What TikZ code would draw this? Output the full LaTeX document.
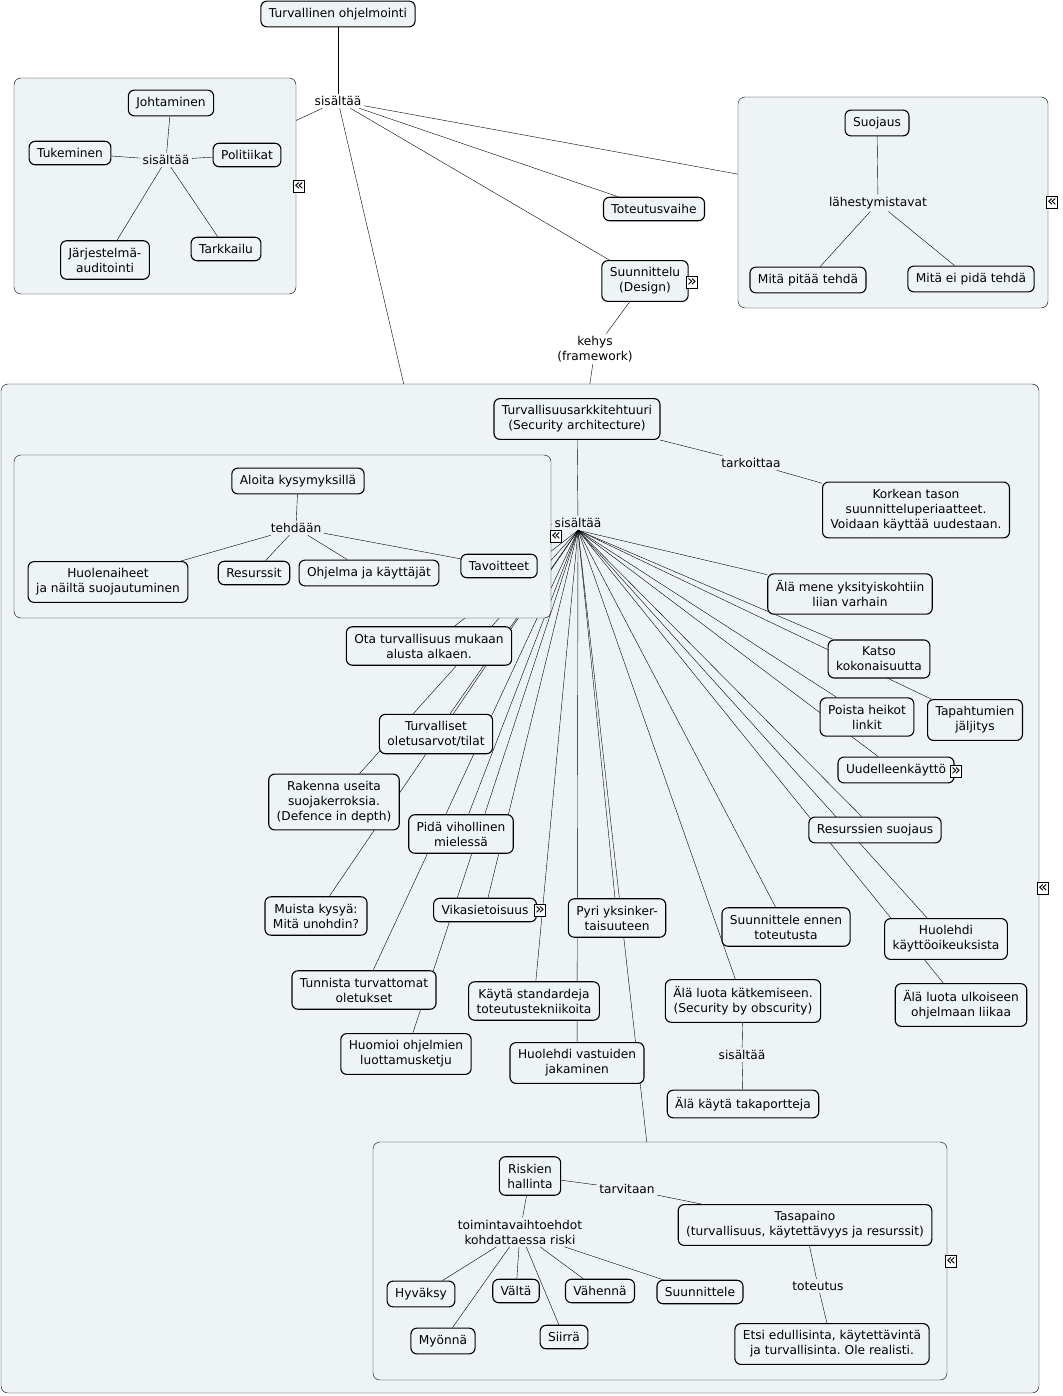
\documentclass[tikz,border=0pt]{standalone}
\usepackage{fontspec}
\setmainfont{DejaVu Sans}
\usepackage{tikz}
\frenchspacing

\definecolor{mapfill}{RGB}{238,244,246}
\newcommand{\mapfont}{\fontsize{12.2}{15}\selectfont}
\pgfdeclarelayer{outer}
\pgfdeclarelayer{fan}
\pgfdeclarelayer{inner}
\pgfsetlayers{outer,fan,inner,main}

\tikzset{
  concept/.style={draw, rounded corners=6pt, fill=mapfill, align=center,
    inner xsep=8pt, inner ysep=7pt, font=\mapfont},
  linkword/.style={align=center, inner sep=2pt, font=\mapfont},
  groupbox/.style={draw, rounded corners=7pt, fill=mapfill, inner sep=0pt},
  foldmark/.style={draw, fill=white, minimum width=11pt, minimum height=12pt,
    inner sep=0pt, font=\fontsize{16}{16}\selectfont},
}

\begin{document}
\begin{tikzpicture}[x=1pt, y=-1pt, line width=1.1pt]
\useasboundingbox (0,0) rectangle (1062,1396);

\node[concept] (program) at (338,14) {Turvallinen ohjelmointi};
\node[linkword] (toplink) at (338,101) {sisältää};

\node[concept] (johtaminen) at (171,103) {Johtaminen};
\node[concept] (tukeminen) at (70,153) {Tukeminen};
\node[linkword] (leadlink) at (166,160) {sisältää};
\node[concept] (politiikat) at (247,155) {Politiikat};
\node[concept] (auditointi) at (105,260) {Järjestelmä-\\auditointi};
\node[concept] (tarkkailu) at (226,249) {Tarkkailu};

\node[concept] (toteutusvaihe) at (654,209) {Toteutusvaihe};
\node[concept] (suunnittelu) at (645,281) {Suunnittelu\\(Design)};
\node[linkword] (kehys) at (595,349) {kehys\\(framework)};

\node[concept] (suojaus) at (877,123) {Suojaus};
\node[linkword] (approach) at (878,203) {lähestymistavat};
\node[concept] (pitaa) at (808,280) {Mitä pitää tehdä};
\node[concept] (eipida) at (971,279) {Mitä ei pidä tehdä};

\node[concept] (arkkitehtuuri) at (577,419) {Turvallisuusarkkitehtuuri\\(Security architecture)};
\node[linkword] (tarkoittaa) at (751,463) {tarkoittaa};
\node[concept] (korkea) at (916,510) {Korkean tason\\suunnitteluperiaatteet.\\Voidaan käyttää uudestaan.};
\node[linkword] (hub) at (578,523) {sisältää};
\coordinate (hubpt) at (hub.south);

\node[concept] (aloita) at (298,481) {Aloita kysymyksillä};
\node[linkword] (tehdaan) at (296,528) {tehdään};
\node[concept] (huolet) at (108,582) {Huolenaiheet\\ja näiltä suojautuminen};
\node[concept] (resurssit) at (254,573) {Resurssit};
\node[concept] (ohjelma) at (369,573) {Ohjelma ja käyttäjät};
\node[concept] (tavoitteet) at (499,566) {Tavoitteet};

\node[concept] (alamene) at (850,594) {Älä mene yksityiskohtiin\\liian varhain};
\node[concept] (ota) at (429,646) {Ota turvallisuus mukaan\\alusta alkaen.};
\node[concept] (katso) at (879,659) {Katso\\kokonaisuutta};
\node[concept] (poista) at (867,717) {Poista heikot\\linkit};
\node[concept] (tapahtumat) at (975,720) {Tapahtumien\\jäljitys};
\node[concept] (turva) at (436,734) {Turvalliset\\oletusarvot/tilat};
\node[concept] (uudelleen) at (896,770) {Uudelleenkäyttö};
\node[concept] (rakenna) at (334,802) {Rakenna useita\\suojakerroksia.\\(Defence in depth)};
\node[concept] (resurssisuoja) at (875,830) {Resurssien suojaus};
\node[concept] (pida) at (461,834) {Pidä vihollinen\\mielessä};
\node[concept] (muista) at (316,916) {Muista kysyä:\\Mitä unohdin?};
\node[concept] (vika) at (485,910) {Vikasietoisuus};
\node[concept] (pyri) at (617,918) {Pyri yksinker-\\taisuuteen};
\node[concept] (ennen) at (786,927) {Suunnittele ennen\\toteutusta};
\node[concept] (huolehdi) at (946,939) {Huolehdi\\käyttöoikeuksista};
\node[concept] (tunnista) at (364,990) {Tunnista turvattomat\\oletukset};
\node[concept] (kayta) at (534,1001) {Käytä standardeja\\toteutustekniikoita};
\node[concept] (katke) at (743,1001) {Älä luota kätkemiseen.\\(Security by obscurity)};
\node[concept] (ulkoinen) at (961,1005) {Älä luota ulkoiseen\\ohjelmaan liikaa};
\node[concept] (huomioi) at (406,1054) {Huomioi ohjelmien\\luottamusketju};
\node[concept] (vastuu) at (577,1063) {Huolehdi vastuiden\\jakaminen};
\node[linkword] (katkelink) at (742,1055) {sisältää};
\node[concept] (takaportti) at (743,1104) {Älä käytä takaportteja};

\node[concept] (riskien) at (530,1176) {Riskien\\hallinta};
\node[linkword] (tarvitaan) at (627,1189) {tarvitaan};
\node[concept] (tasapaino) at (805,1225) {Tasapaino\\(turvallisuus, käytettävyys ja resurssit)};
\node[linkword] (toiminta) at (520,1232) {toimintavaihtoehdot\\kohdattaessa riski};
\node[linkword] (toteutus) at (818,1286) {toteutus};
\node[concept] (etsi) at (832,1344) {Etsi edullisinta, käytettävintä\\ja turvallisinta. Ole realisti.};
\node[concept] (hyvaksy) at (421,1294) {Hyväksy};
\node[concept] (myonna) at (443,1341) {Myönnä};
\node[concept] (valta) at (516,1291) {Vältä};
\node[concept] (siirra) at (564,1337) {Siirrä};
\node[concept] (vahenna) at (600,1291) {Vähennä};
\node[concept] (suunnittele) at (700,1292) {Suunnittele};

\begin{pgfonlayer}{outer}
\node[groupbox, minimum width=282pt, minimum height=216pt] (leadbox) at (155,186) {};
\node[groupbox, minimum width=310pt, minimum height=211pt] (suojausbox) at (893,202.5) {};
\node[groupbox, minimum width=1038pt, minimum height=1009pt] (bigbox) at (520,888.5) {};
\end{pgfonlayer}
\begin{pgfonlayer}{inner}
\node[groupbox, minimum width=537pt, minimum height=163pt] (askbox) at (282.5,536.5) {};
\node[groupbox, minimum width=574pt, minimum height=238pt] (riskbox) at (660,1261) {};
\end{pgfonlayer}

\begin{pgfonlayer}{fan}
\foreach \t in {ota,rakenna,turva,muista,pida,tunnista,huomioi,vika,kayta,vastuu,pyri,riskbox,
  katke,ennen,ulkoinen,huolehdi,resurssisuoja,uudelleen,poista,tapahtumat,katso,alamene}
  \draw (hubpt) -- (\t);
\end{pgfonlayer}

\draw (program) -- (toplink);
\foreach \t in {leadbox,toteutusvaihe,suunnittelu,suojausbox,bigbox}
  \draw (toplink) -- (\t);
\draw (johtaminen) -- (leadlink);
\foreach \t in {tukeminen,politiikat,auditointi,tarkkailu}
  \draw (leadlink) -- (\t);
\draw (suunnittelu) -- (kehys) -- (bigbox);
\draw (suojaus) -- (approach);
\draw (approach) -- (pitaa);
\draw (approach) -- (eipida);
\draw (arkkitehtuuri) -- (tarkoittaa) -- (korkea);
\draw (arkkitehtuuri) -- (hub);
\draw (hub) -- (askbox);
\draw (aloita) -- (tehdaan);
\foreach \t in {huolet,resurssit,ohjelma,tavoitteet}
  \draw (tehdaan) -- (\t);
\draw (katke) -- (katkelink) -- (takaportti);
\draw (riskien) -- (tarvitaan) -- (tasapaino);
\draw (riskien) -- (toiminta);
\foreach \t in {hyvaksy,myonna,valta,siirra,vahenna,suunnittele}
  \draw (toiminta) -- (\t);
\draw (tasapaino) -- (toteutus) -- (etsi);

\node[foldmark] at (299,186) {«};
\node[foldmark] at (692,282) {»};
\node[foldmark] at (1052,202) {«};
\node[foldmark] at (556,536) {«};
\node[foldmark] at (956,771) {»};
\node[foldmark] at (540,910) {»};
\node[foldmark] at (1043,888) {«};
\node[foldmark] at (951,1261) {«};
\end{tikzpicture}
\end{document}
